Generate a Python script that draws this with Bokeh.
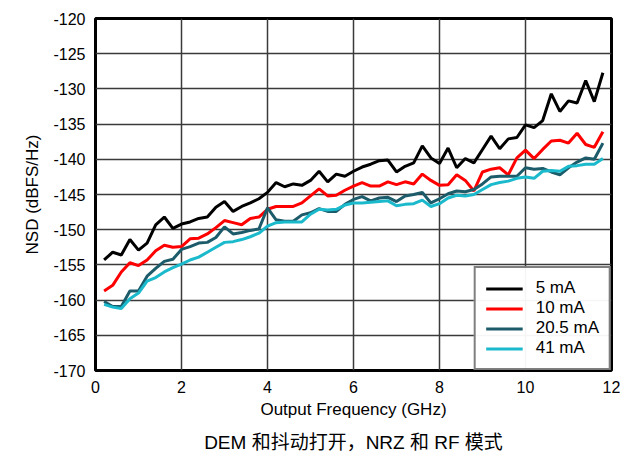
from bokeh.plotting import figure
from bokeh.models import Range1d, FixedTicker, Legend, LegendItem, Title
from bokeh.embed import file_html
from bokeh.resources import INLINE

freq = [round(0.2 + 0.2 * k, 1) for k in range(59)]

nsd_5mA = [-154.3, -153.2, -153.6, -151.4, -152.9, -151.9, -149.3, -148.2, -149.8, -149.2,
           -148.9, -148.4, -148.2, -146.8, -146.0, -147.4, -146.7, -146.2, -145.6, -144.7,
           -143.3, -143.9, -143.5, -143.7, -143.0, -141.7, -143.2, -142.1, -142.4, -141.7,
           -141.1, -140.7, -140.2, -140.1, -141.8, -141.0, -140.5, -138.1, -139.8, -140.6,
           -138.4, -141.2, -139.9, -140.5, -138.6, -136.7, -138.5, -137.1, -136.9, -135.1,
           -135.5, -134.5, -130.7, -133.2, -131.7, -132.0, -128.8, -131.8, -127.7]

nsd_10mA = [-158.7, -157.9, -156.0, -154.7, -155.1, -154.3, -153.0, -152.2, -152.5, -152.4,
            -151.3, -151.2, -150.6, -149.7, -148.7, -149.0, -149.3, -148.4, -148.2, -147.1,
            -146.7, -146.7, -146.7, -146.2, -145.2, -144.2, -145.2, -145.1, -144.4, -143.8,
            -143.3, -143.8, -143.8, -143.2, -143.6, -143.2, -143.5, -142.1, -143.0, -143.7,
            -143.6, -142.2, -143.0, -144.5, -141.8, -141.4, -141.2, -142.2, -139.8, -138.7,
            -139.9, -138.6, -137.4, -137.3, -137.7, -136.3, -137.9, -138.3, -136.1]

nsd_20_5mA = [-160.2, -160.9, -160.9, -158.7, -158.7, -156.6, -155.5, -154.5, -154.2, -152.8,
              -152.4, -151.9, -151.8, -151.1, -149.6, -150.6, -150.4, -150.1, -149.9, -146.9,
              -148.6, -148.8, -148.8, -147.9, -147.6, -147.0, -147.4, -147.4, -146.4, -145.7,
              -145.3, -145.9, -145.5, -145.4, -146.0, -145.2, -145.0, -144.7, -146.2, -145.6,
              -144.9, -144.5, -144.6, -144.3, -143.5, -142.5, -142.4, -142.4, -142.4, -141.2,
              -141.4, -141.3, -141.8, -142.2, -141.2, -140.4, -139.8, -140.0, -137.7]

nsd_41mA = [-160.6, -161.0, -161.2, -159.8, -159.0, -157.3, -156.8, -156.0, -155.4, -154.9,
            -154.3, -153.9, -153.2, -152.5, -151.8, -151.7, -151.4, -151.0, -150.5, -149.5,
            -149.0, -148.9, -148.9, -148.9, -147.8, -147.1, -147.2, -147.1, -146.5, -146.2,
            -146.2, -146.1, -146.0, -145.9, -146.6, -146.4, -146.3, -145.8, -146.7, -146.3,
            -145.5, -145.1, -145.2, -145.0, -144.3, -143.6, -143.3, -143.1, -142.7, -142.5,
            -142.7, -141.7, -141.6, -141.7, -141.0, -140.9, -140.7, -140.7, -139.9]

series_names = ["5 mA", "10 mA", "20.5 mA", "41 mA"]
series_values = [nsd_5mA, nsd_10mA, nsd_20_5mA, nsd_41mA]
series_colors = ["#000000", "#ff0000", "#1c5b6a", "#1ab9cb"]

x_ticks = [0, 2, 4, 6, 8, 10, 12]
y_ticks = list(range(-170, -119, 5))
y_tick_labels = {t: str(t) for t in y_ticks}

caption = "DEM 和抖动打开，NRZ 和 RF 模式"

FONT = "Liberation Sans, Noto Sans CJK SC"

p = figure(width=620, height=460, output_backend="svg", toolbar_location=None,
           x_range=Range1d(0, 12), y_range=Range1d(-170, -120),
           min_border_left=95, min_border_right=9, min_border_top=18, min_border_bottom=90)

p.outline_line_color = "black"
p.outline_line_width = 3

for ax in (p.xaxis[0], p.yaxis[0]):
    ax.axis_line_color = None
    ax.major_tick_line_color = None
    ax.minor_tick_line_color = None
    ax.major_tick_out = 0
    ax.major_tick_in = 0
    ax.minor_tick_out = 0
    ax.minor_tick_in = 0
    ax.major_label_text_font = FONT
    ax.major_label_text_font_size = "16px"
    ax.major_label_text_color = "black"
    ax.axis_label_text_font = FONT
    ax.axis_label_text_font_style = "normal"
    ax.axis_label_text_font_size = "17px"
    ax.axis_label_text_color = "black"

p.xaxis.ticker = FixedTicker(ticks=x_ticks)
p.yaxis.ticker = FixedTicker(ticks=y_ticks)
p.yaxis.major_label_overrides = y_tick_labels
p.xaxis.major_label_standoff = 10
p.yaxis.major_label_standoff = 10
p.xaxis.axis_label = "Output Frequency (GHz)"
p.yaxis.axis_label = "NSD (dBFS/Hz)"
p.xaxis.axis_label_standoff = 4
p.yaxis.axis_label_standoff = 8

for g in (p.xgrid[0], p.ygrid[0]):
    g.grid_line_color = "#3a3a3a"
    g.grid_line_width = 1.5

items = []
for name, vals, col in zip(series_names, series_values, series_colors):
    r = p.line(freq, vals, line_color=col, line_width=3)
    items.append(LegendItem(label=name, renderers=[r]))

legend = Legend(items=items, location="bottom_right")
legend.label_text_font = FONT
legend.label_text_font_size = "17px"
legend.label_text_color = "black"
legend.border_line_color = "black"
legend.border_line_width = 2.5
legend.glyph_width = 37
legend.glyph_height = 19
legend.label_height = 19
legend.spacing = 0
legend.padding = 10
legend.margin = 0
legend.label_standoff = 13
p.add_layout(legend)

cap = Title(text=caption, align="center",
            text_font=FONT, text_font_size="19px", text_font_style="normal",
            text_color="black", standoff=16)
p.add_layout(cap, "below")

open("out.html", "w").write(file_html(p, INLINE))
